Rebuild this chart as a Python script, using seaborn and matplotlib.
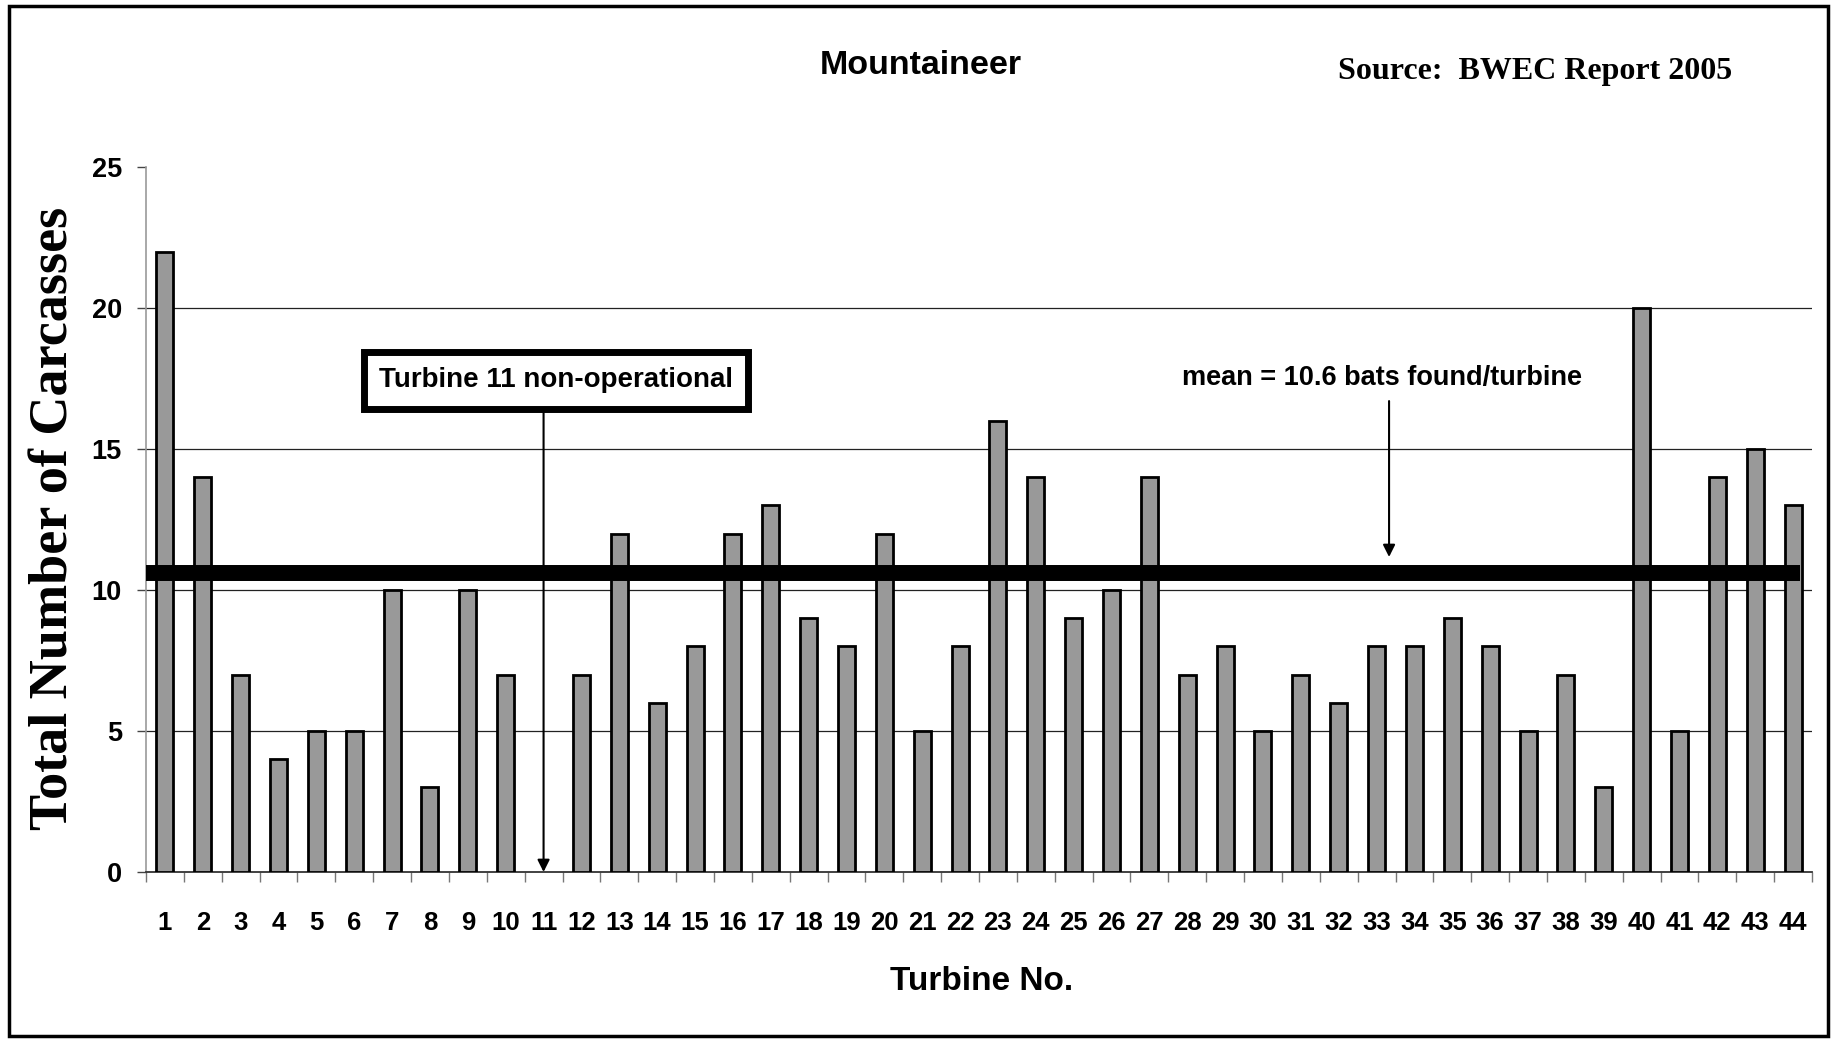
import numpy as np
import pandas as pd
import matplotlib
matplotlib.use('Agg')
import matplotlib.pyplot as plt
import seaborn as sns
from matplotlib.patches import Rectangle

# ---- data ----
turbines = [str(i) for i in range(1, 45)]
carcasses = [22, 14, 7, 4, 5, 5, 10, 3, 10, 7, np.nan, 7, 12, 6, 8, 12, 13, 9,
             8, 12, 5, 8, 16, 14, 9, 10, 14, 7, 8, 5, 7, 6, 8, 8, 9, 8, 5, 7,
             3, 20, 5, 14, 15, 13]
y_ticks = [0, 5, 10, 15, 20, 25]
mean_value = 10.6
off_turbine = '11'

title = 'Mountaineer'
source = 'Source:  BWEC Report 2005'
xlabel = 'Turbine No.'
ylabel = 'Total Number of Carcasses'
note_off = 'Turbine 11 non-operational'
note_mean = 'mean = 10.6 bats found/turbine'

sns.set_theme(style='white')
plt.rcParams['font.family'] = ['Liberation Sans', 'DejaVu Sans']
plt.rcParams['text.color'] = 'black'
plt.rcParams['axes.labelcolor'] = 'black'
plt.rcParams['xtick.color'] = 'black'
plt.rcParams['ytick.color'] = 'black'

W, H = 1835, 1040
fig = plt.figure(figsize=(W / 100, H / 100), dpi=100)
fig.patch.set_facecolor('white')
ax = fig.add_axes([146 / W, 1 - 872 / H, (1812 - 146) / W, (872 - 167) / H])
ax.set_facecolor('white')

df = pd.DataFrame({'turbine': turbines, 'carcasses': carcasses})
sns.barplot(data=df, x='turbine', y='carcasses', order=turbines,
            color='#999999', saturation=1, edgecolor='black', linewidth=2,
            width=0.45, errorbar=None, ax=ax, zorder=3)

ax.set_xlim(-0.5, len(turbines) - 0.5)
ax.set_ylim(y_ticks[0], y_ticks[-1])
ax.set_yticks(y_ticks)
ax.set_xticks(range(len(turbines)))
ax.set_xticklabels(turbines)
ax.set_xticks(np.arange(-0.5, len(turbines), 1.0), minor=True)
ax.tick_params(axis='x', which='major', length=0, pad=28, labelsize=18.5, bottom=True,
               labelcolor='black')
ax.tick_params(axis='x', which='minor', length=7.2, width=1, color='#777777',
               direction='out', bottom=True)
ax.tick_params(axis='y', length=6.5, width=1, color='#444444', pad=10.8,
               labelsize=19.5, left=True, direction='out', labelcolor='black')
for lab in ax.get_xticklabels() + ax.get_yticklabels():
    lab.set_fontweight('bold')

for v in y_ticks[1:-1]:
    ax.axhline(v, color='#222222', lw=0.9, zorder=1)

for s in ['top', 'right']:
    ax.spines[s].set_visible(False)
ax.spines['left'].set_color('#999999')
ax.spines['left'].set_linewidth(1.2)
ax.spines['bottom'].set_color('#333333')
ax.spines['bottom'].set_linewidth(1.3)

# mean line
ax.axhline(mean_value, color='black', lw=11.5, zorder=5, xmax=0.993,
           solid_capstyle='butt')

# annotations
off_idx = turbines.index(off_turbine)
ax.annotate('', xy=(off_idx, 0), xytext=(off_idx, 16.4),
            arrowprops=dict(arrowstyle='-|>', color='black', lw=1.5,
                            mutation_scale=18, shrinkA=0, shrinkB=0), zorder=6)
ax.text(off_idx + 0.33, 17.43, note_off, ha='center', va='center',
        fontsize=20, fontweight='bold', zorder=7, color='black',
        bbox=dict(boxstyle='square,pad=0.55', fc='white', ec='black', lw=5))

ax.text(32.15, 17.52, note_mean, ha='center', va='center', fontsize=19.5,
        fontweight='bold', zorder=7, color='black')
ax.annotate('', xy=(32.33, 11.17), xytext=(32.33, 16.7),
            arrowprops=dict(arrowstyle='-|>', color='black', lw=1.5,
                            mutation_scale=18, shrinkA=0, shrinkB=0), zorder=6)

ax.set_xlabel(xlabel, fontsize=24, fontweight='bold', va='center', color='black')
ax.xaxis.set_label_coords((982 - 146) / 1666, (872 - 982) / 705)
ax.set_ylabel(ylabel, fontsize=39, fontweight='bold', va='center', color='black',
              family=['Liberation Serif', 'DejaVu Serif'])
ax.yaxis.set_label_coords((55 - 146) / 1666, (872 - 518) / 705)

fig.text(921 / W, 1 - 65 / H, title, ha='center', va='center', fontsize=24.5,
         fontweight='bold', color='black')
fig.text(1535.5 / W, 1 - 71 / H, source, ha='center', va='center', fontsize=23,
         fontweight='bold', color='black', family=['Liberation Serif', 'DejaVu Serif'])

fig.add_artist(Rectangle((9 / W, 4 / H), (1828 - 9) / W, (1036 - 6) / H,
                         transform=fig.transFigure, fill=False, ec='black', lw=2.5))

fig.savefig('out.png', dpi=100)
